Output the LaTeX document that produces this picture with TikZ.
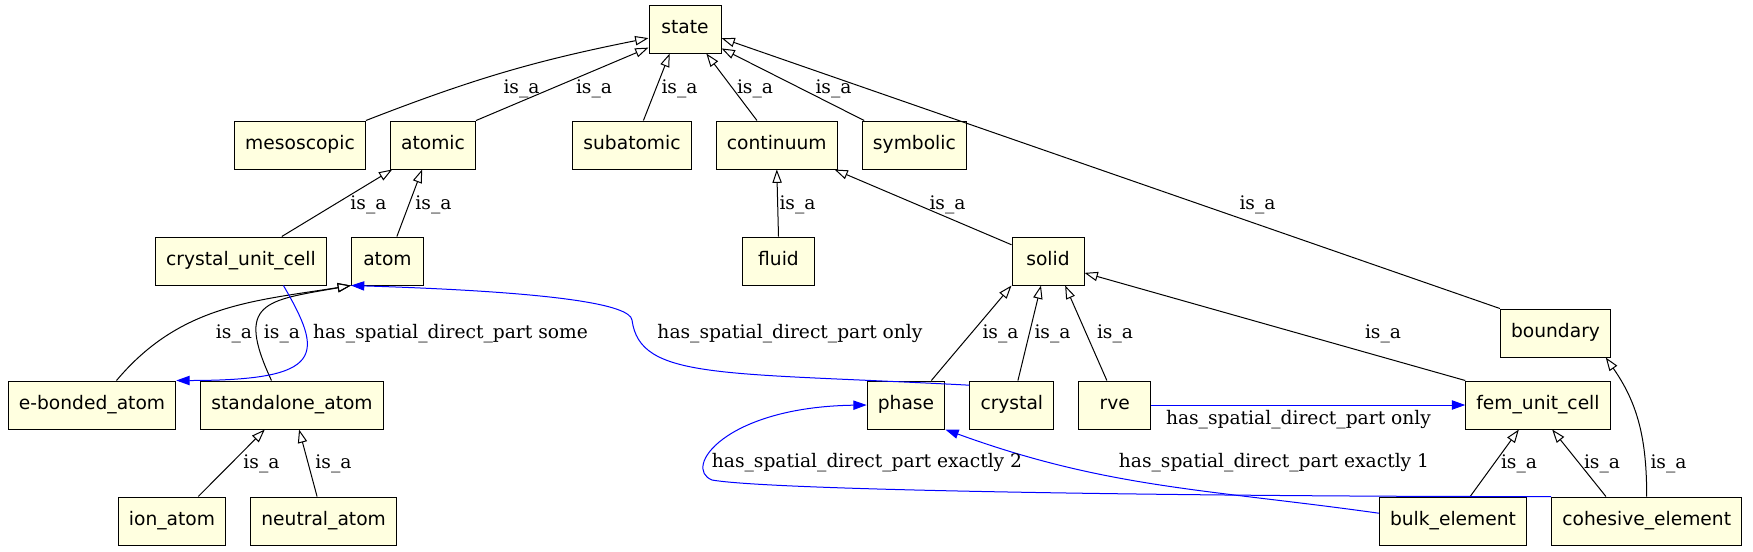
\documentclass[tikz,border=0pt]{standalone}
\usepackage{fontspec}
\setmainfont{DejaVu Serif}
\newfontfamily\classfont{DejaVu Sans}
\usetikzlibrary{arrows.meta,positioning}
\definecolor{classfill}{HTML}{FFFFE0}
\tikzset{
  classbox/.style={
    rectangle,
    draw=black,
    fill=classfill,
    line width=0.75pt,
    minimum width=54pt,
    minimum height=36pt,
    inner xsep=8pt,
    text height=10.5pt,
    text depth=3.5pt,
    font=\classfont\fontsize{14pt}{16pt}\selectfont
  },
  isarrow/.style={
    -{Triangle[open,length=10pt,width=7pt]},
    line width=0.75pt,
    draw=black
  },
  partarrow/.style={
    isarrow,
    -{Triangle[length=10pt,width=7pt]},
    draw=blue
  },
  edgelabel/.style={
    anchor=base,
    inner sep=0pt,
    font=\fontsize{14pt}{16pt}\selectfont
  }
}

\begin{document}
\begin{tikzpicture}[x=0.75pt, y=-0.75pt, node distance=18pt]
  \useasboundingbox (0,0) rectangle (1753,551);

  \node[classbox] (state) at (685,29) {state};

  \node[classbox] (mesoscopic) at (300,145) {mesoscopic};
  \node[classbox, right=of mesoscopic] (atomic) {atomic};
  \node[classbox] (subatomic) at (632,145) {subatomic};
  \node[classbox, right=of subatomic] (continuum) {continuum};
  \node[classbox, right=of continuum] (symbolic) {symbolic};

  \node[classbox] (crystalcell) at (241,261) {crystal\_unit\_cell};
  \node[classbox, right=of crystalcell] (atom) {atom};
  \node[classbox] (fluid) at (778.5,261) {fluid};
  \node[classbox] (solid) at (1048,261) {solid};
  \node[classbox] (boundary) at (1555.5,333) {boundary};

  \node[classbox] (ebonded) at (92,405) {e-bonded\_atom};
  \node[classbox, right=of ebonded] (standalone) {standalone\_atom};
  \node[classbox] (phase) at (906,405) {phase};
  \node[classbox, right=of phase] (crystal) {crystal};
  \node[classbox, right=of crystal] (rve) {rve};
  \node[classbox] (femcell) at (1538,405) {fem\_unit\_cell};

  \node[classbox] (ionatom) at (172,521) {ion\_atom};
  \node[classbox, right=of ionatom] (neutralatom) {neutral\_atom};
  \node[classbox] (bulkel) at (1453,521) {bulk\_element};
  \node[classbox, right=of bulkel] (cohesiveel) {cohesive\_element};

  % is_a links
  \draw[isarrow] (mesoscopic.north east) to[bend left=5] (state.194);
  \node[edgelabel] (lmeso) at (521.5,93) {is\_a};
  \draw[isarrow] (atomic.north east) -- (state.207);
  \node[edgelabel] (latomic) at (594,93) {is\_a};
  \draw[isarrow] (subatomic.65) -- (state.238);
  \node[edgelabel] (lsub) at (679.5,93) {is\_a};
  \draw[isarrow] (continuum.129) -- (state.311);
  \node[edgelabel] (lcont) at (755,93) {is\_a};
  \draw[isarrow] (symbolic.154) -- (state.332);
  \node[edgelabel] (lsym) at (833.5,93) {is\_a};
  \draw[isarrow] (boundary.north west) -- (state.346);
  \node[edgelabel] (lbound) at (1257.5,209) {is\_a};

  \draw[isarrow] (crystalcell.31) -- (atomic.211);
  \node[edgelabel] (lcell) at (368.5,209) {is\_a};
  \draw[isarrow] (atom.69) -- (atomic.246);
  \node[edgelabel] (latom) at (433.5,209) {is\_a};
  \draw[isarrow] (fluid.north) -- (continuum.south);
  \node[edgelabel] (lfluid) at (797.5,209) {is\_a};
  \draw[isarrow] (solid.156) -- (continuum.337);
  \node[edgelabel] (lsolid) at (947.5,209) {is\_a};

  \draw[isarrow] (ebonded.45) to[out=50, in=189] (atom.south west);
  \node[edgelabel] (lebond) at (234,338) {is\_a};
  \draw[isarrow] (standalone.130) to[out=115, in=190, looseness=1.8] (atom.south west);
  \node[edgelabel] (lstand) at (282,338) {is\_a};
  \draw[isarrow] (phase.44) to[out=50, in=-130] (solid.south west);
  \node[edgelabel] (lphase) at (1000.5,338) {is\_a};
  \draw[isarrow] (crystal.76) -- (solid.254);
  \node[edgelabel] (lcrys) at (1052.5,338) {is\_a};
  \draw[isarrow] (rve.108) -- (solid.305);
  \node[edgelabel] (lrve) at (1115,338) {is\_a};
  \draw[isarrow] (femcell.north west) -- (solid.342);
  \node[edgelabel] (lfem) at (1383,338) {is\_a};

  \draw[isarrow] (ionatom.43) -- (standalone.222);
  \node[edgelabel] (lion) at (261.5,468) {is\_a};
  \draw[isarrow] (neutralatom.105) -- (standalone.286);
  \node[edgelabel] (lneut) at (333.5,468) {is\_a};
  \draw[isarrow] (bulkel.55) -- (femcell.232);
  \node[edgelabel] (lbulk) at (1519,468) {is\_a};
  \draw[isarrow] (cohesiveel.149) -- (femcell.300);
  \node[edgelabel] (lcohfem) at (1602,468) {is\_a};
  \draw[isarrow] (cohesiveel.north) to[out=90, in=-55] (boundary.334);
  \node[edgelabel] (lcohbnd) at (1668.5,468) {is\_a};

  % part links
  \draw[partarrow] (crystalcell.330) .. controls +(40,69) and +(150,0) .. (ebonded.north east);
  \node[edgelabel] (lsome) at (450.5,338) {has\_spatial\_direct\_part some};
  \draw[partarrow] (crystal.155) .. controls (720,372) and (640,380) .. (632,320)
    .. controls (630,305) and (560,292) .. (atom.south west);
  \node[edgelabel] (lonly) at (790,338) {has\_spatial\_direct\_part only};
  \draw[partarrow] (rve.east) -- (femcell.west);
  \node[edgelabel] (lonlyrve) at (1298.5,424) {has\_spatial\_direct\_part only};
  \draw[partarrow] (bulkel.174) to[out=172, in=-20] (phase.south east);
  \node[edgelabel] (lone) at (1274,467) {has\_spatial\_direct\_part exactly 1};
  \draw[partarrow] (cohesiveel.north west) .. controls (1300,497) and (780,492) .. (712,480)
    .. controls (682,468) and (725,407) .. (phase.west);
  \node[edgelabel] (ltwo) at (867,467) {has\_spatial\_direct\_part exactly 2};
\end{tikzpicture}
\end{document}
